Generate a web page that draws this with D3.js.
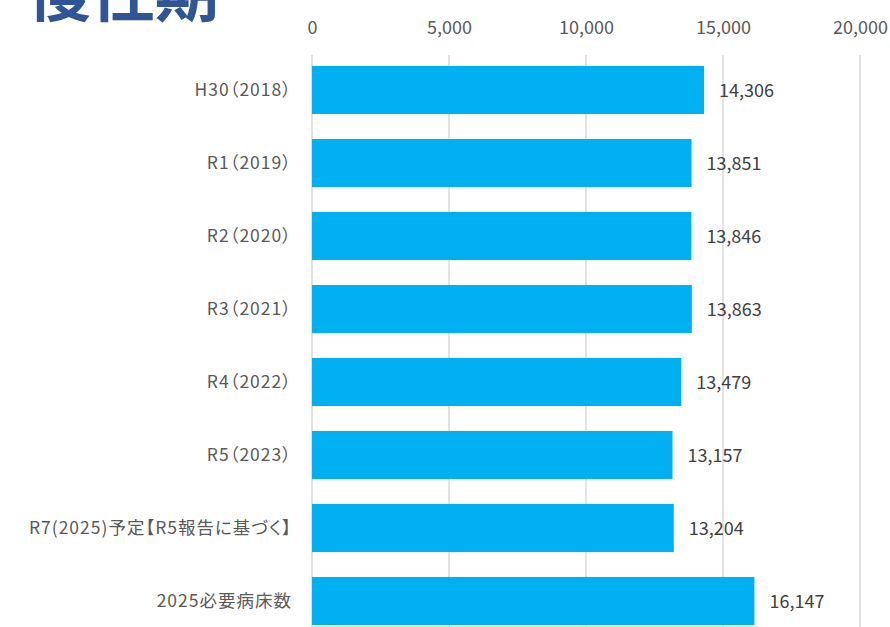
<!DOCTYPE html>
<html>
<head>
<meta charset="utf-8">
<script src="https://cdn.jsdelivr.net/npm/d3@7"></script>
<style>
  body { margin: 0; background: #fff; }
  svg { display: block; }
  text { font-family: "Noto Sans CJK JP", "Noto Sans", sans-serif; }
  .yAxis text { font-feature-settings: "palt"; }
</style>
</head>
<body>
<svg width="890" height="627"></svg>
<script>
const categories = ["H30（2018）", "R1（2019）", "R2（2020）", "R3（2021）", "R4（2022）", "R5（2023）", "R7(2025)予定【R5報告に基づく】", "2025必要病床数"];
const values = [14306, 13851, 13846, 13863, 13479, 13157, 13204, 16147];
const ticks = [0, 5000, 10000, 15000, 20000];
const title = "慢性期";

const data = categories.map((name, i) => ({name, value: values[i]}));

const svg = d3.select("svg");

const x = d3.scaleLinear()
    .domain([0, 20000])
    .range([312, 860]);

const y = d3.scaleBand()
    .domain(categories)
    .range([53.5, 637.5])
    .paddingInner(0.342)
    .paddingOuter(0.171);

// gridlines
svg.append("g")
    .selectAll("line")
    .data(ticks)
    .enter()
    .append("line")
    .attr("x1", d => x(d))
    .attr("x2", d => x(d))
    .attr("y1", 55)
    .attr("y2", 627)
    .attr("stroke", "#d9d9d9")
    .attr("stroke-width", 1.5);

// top axis labels
const xAxis = d3.axisTop(x)
    .tickValues(ticks)
    .tickSize(0)
    .tickPadding(0)
    .tickFormat(d3.format(","));

const xAxisGroup = svg.append("g")
    .attr("class", "xAxis")
    .attr("transform", "translate(0, 34)")
    .call(xAxis);
xAxisGroup.select(".domain").remove();
xAxisGroup.selectAll("text")
    .attr("fill", "#595959")
    .style("font-size", "18px");

// bars
svg.append("g")
    .selectAll("rect")
    .data(data)
    .enter()
    .append("rect")
    .attr("x", x(0))
    .attr("y", d => y(d.name))
    .attr("width", d => x(d.value) - x(0))
    .attr("height", y.bandwidth())
    .attr("fill", "#00b0f0");

// value labels
svg.append("g")
    .selectAll("text")
    .data(data)
    .enter()
    .append("text")
    .attr("x", d => x(d.value) + 15)
    .attr("y", d => y(d.name) + y.bandwidth() / 2 + 2)
    .attr("dominant-baseline", "middle")
    .attr("fill", "#404040")
    .style("font-size", "18px")
    .text(d => d3.format(",")(d.value));

// category labels
const yAxis = d3.axisLeft(y).tickSize(0).tickPadding(0);
const yAxisGroup = svg.append("g")
    .attr("class", "yAxis")
    .attr("transform", "translate(292, 0)")
    .call(yAxis);
yAxisGroup.select(".domain").remove();
yAxisGroup.selectAll("text")
    .attr("fill", "#595959")
    .style("font-size", "17.5px")
    .style("letter-spacing", "1px");

// title, cut off at the top
svg.append("text")
    .attr("x", 27)
    .attr("y", 16)
    .attr("fill", "#2f5597")
    .style("font-size", "64px")
    .style("font-weight", "bold")
    .text(title);
</script>
</body>
</html>
